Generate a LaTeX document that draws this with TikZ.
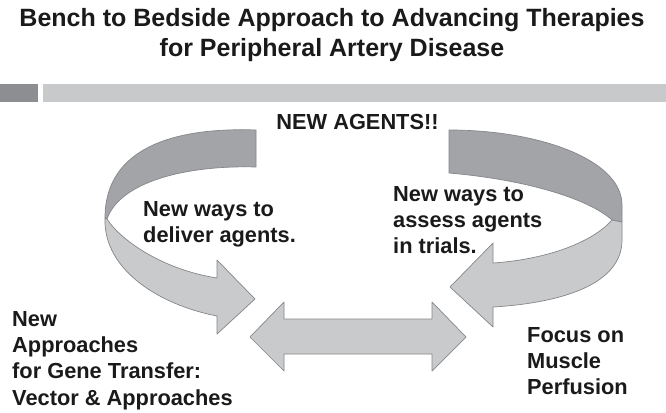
\documentclass[tikz,border=0pt]{standalone}
\usepackage{fontspec}
\setmainfont{Liberation Sans}
\definecolor{ribdark}{HTML}{A3A4A7}
\definecolor{riblight}{HTML}{C9CACC}
\definecolor{ribline}{HTML}{85868A}
\definecolor{bardark}{HTML}{8D8E91}
\definecolor{barlight}{HTML}{C8C9CB}
\definecolor{inkc}{HTML}{1A1A1A}
\begin{document}
\begin{tikzpicture}[x=1pt,y=-1pt,
  backface/.style={fill=ribdark,draw=ribline,line width=0.7pt,line join=round},
  frontface/.style={fill=riblight,draw=ribline,line width=0.7pt,line join=round},
  titletext/.style={font=\bfseries\fontsize{25}{30}\selectfont,text=inkc,inner sep=0pt,align=center},
  bodytext/.style={font=\bfseries\fontsize{21.8}{26.3}\selectfont,text=inkc,inner sep=0pt,align=left}]
\fill[white] (0,0) rectangle (666,412);
\useasboundingbox (0,0) rectangle (666,412);

% header bar
\fill[bardark] (0,84) rectangle (38,102);
\fill[barlight] (43,84) rectangle (666,102);

% title
\node[titletext,anchor=north] (title) at (332,8)
  {Bench to Bedside Approach to Advancing Therapies\\for Peripheral Artery Disease};

% left curved arrow
\path[backface] (256,130) .. controls (170,127) and (105,150) .. (105,218)
  -- (107,219) .. controls (120,182) and (185,165) .. (256,167) -- cycle;
\path[frontface] (105,218) .. controls (103,270) and (160,305) .. (217,316)
  -- (217,334) -- (255,299) -- (217,260) -- (217,278)
  .. controls (165,270) and (122,242) .. (107,219) -- cycle;

% right curved arrow
\path[backface] (449,130) .. controls (540,130) and (622,160) .. (622,205)
  -- (622,222) -- (612,220) .. controls (590,200) and (530,180) .. (449,173) -- cycle;
\path[frontface] (612,220) -- (622,222) -- (622,240)
  .. controls (622,285) and (560,303) .. (493,307)
  -- (493,327) -- (450,287) -- (493,243) -- (493,263)
  .. controls (540,260) and (590,245) .. (612,220) -- cycle;

% double arrow
\path[frontface] (250,337) -- (284,302) -- (284,319) -- (432,319) -- (432,302)
  -- (466,337) -- (432,371) -- (432,354) -- (284,354) -- (284,371) -- cycle;

% labels
\node[bodytext,anchor=base] (agents) at (357.5,129) {NEW AGENTS!!};
\node[bodytext,anchor=north west] (deliver) at (143,201) {New ways to\\deliver agents.};
\node[bodytext,anchor=north west] (assess) at (393,186) {New ways to\\assess agents\\in trials.};
\node[bodytext,anchor=north west] (gene) at (12,311) {New\\Approaches\\for Gene Transfer:\\Vector \& Approaches};
\node[bodytext,anchor=north west] (focus) at (527,327) {Focus on\\Muscle\\Perfusion};
\end{tikzpicture}
\end{document}
